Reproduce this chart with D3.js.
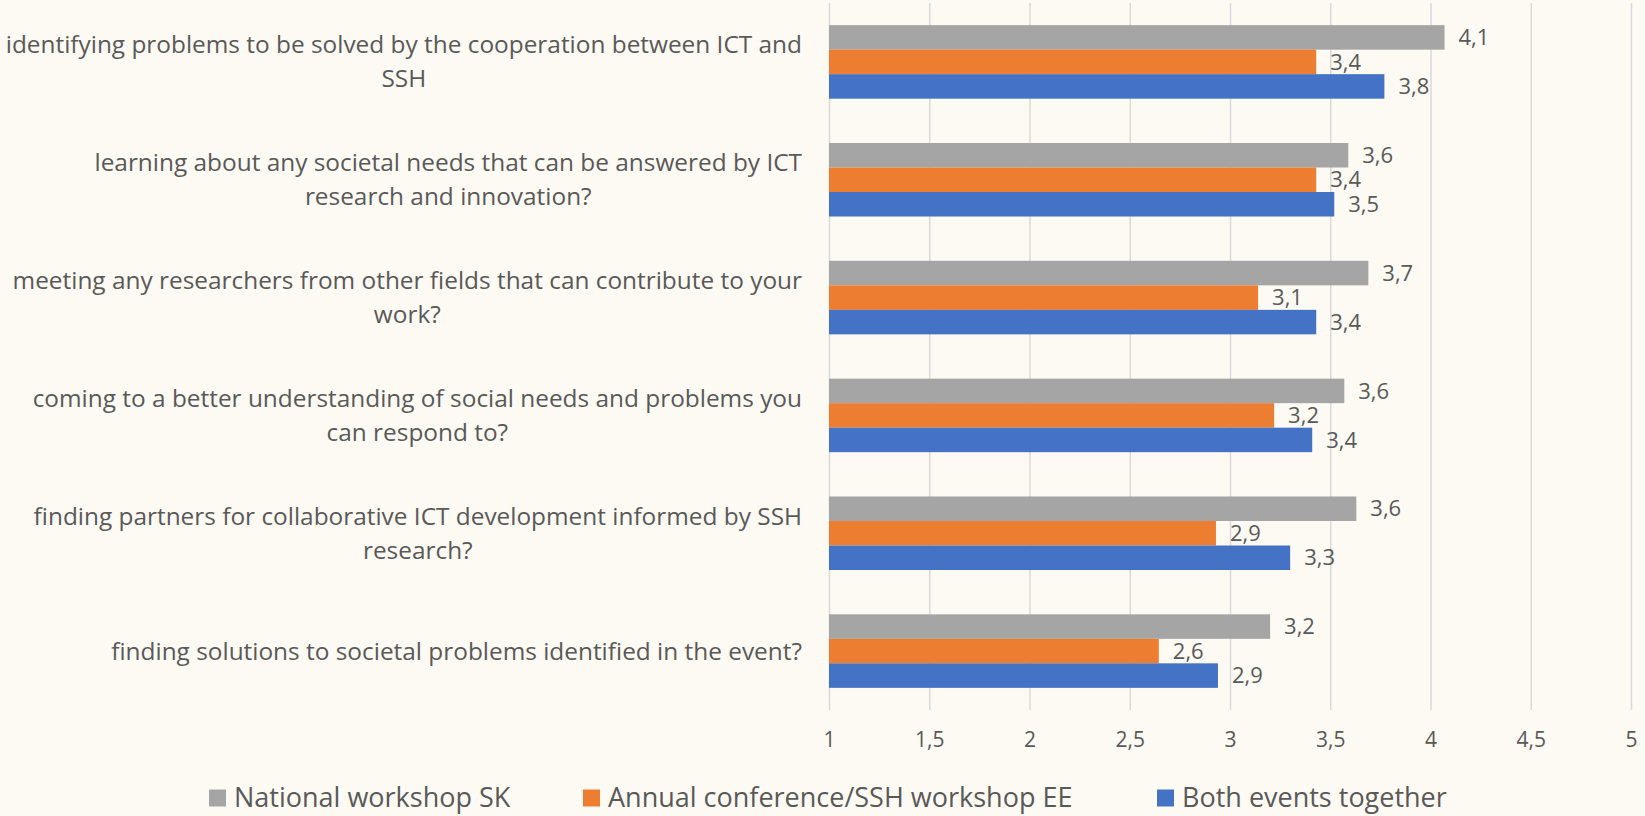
<!DOCTYPE html>
<html>
<head>
<meta charset="utf-8">
<script src="https://cdn.jsdelivr.net/npm/d3@7"></script>
<style>
  html, body { margin: 0; padding: 0; background: #fdfaf3; }
  svg { display: block; }
  text { font-family: "Open Sans", sans-serif; fill: #595959; }
</style>
</head>
<body>
<div id="chart"></div>
<script>
// questions, as wrapped in the original chart
const categories = [
  'identifying problems to be solved by the cooperation between ICT and\nSSH',
  'learning about any societal needs that can be answered by ICT\nresearch and innovation?',
  'meeting any researchers from other fields that can contribute to your\nwork?',
  'coming to a better understanding of social needs and problems you\ncan respond to?',
  'finding partners for collaborative ICT development informed by SSH\nresearch?',
  'finding solutions to societal problems identified in the event?'
];
const seriesNames = ['National workshop SK', 'Annual conference/SSH workshop EE', 'Both events together'];
const nationalSK = [4.07, 3.59, 3.69, 3.57, 3.63, 3.20];
const annualEE = [3.43, 3.43, 3.14, 3.22, 2.93, 2.645];
const bothEvents = [3.77, 3.52, 3.43, 3.41, 3.30, 2.94];
const xTicks = [1, 1.5, 2, 2.5, 3, 3.5, 4, 4.5, 5];
const colors = ['#a5a5a5', '#ed7d31', '#4472c4'];

const width = 1645, height = 816;
const margin = {top: 3, right: 14, bottom: 106, left: 829};

const svg = d3.select('#chart').append('svg')
  .attr('width', width)
  .attr('height', height);

const x = d3.scaleLinear()
  .domain([1, 5])
  .range([margin.left, width - margin.right]);

const y = d3.scaleBand()
  .domain(d3.range(categories.length))
  .range([margin.top, height - margin.bottom])
  .paddingInner(0.376)
  .paddingOuter(0.188);

const ySeries = d3.scaleBand()
  .domain(d3.range(seriesNames.length))
  .range([0, y.bandwidth()]);

// gridlines
svg.append('g')
  .attr('transform', 'translate(0,' + margin.top + ')')
  .call(d3.axisBottom(x).tickValues(xTicks).tickSize(height - margin.bottom - margin.top).tickFormat(''))
  .call(g => g.select('.domain').remove())
  .call(g => g.selectAll('line').attr('stroke', '#d9d9d9').attr('stroke-width', 1.5));

// tick labels
svg.append('g')
  .attr('transform', 'translate(0,' + (height - margin.bottom) + ')')
  .call(d3.axisBottom(x).tickValues(xTicks).tickSize(0).tickPadding(22)
    .tickFormat(d => String(d).replace('.', ',')))
  .call(g => g.select('.domain').remove())
  .call(g => g.selectAll('text').attr('font-size', 21).attr('fill', '#595959')
    .style('font-family', '"Open Sans", sans-serif'));

// bars
const rows = categories.map((c, i) => ({i, vals: [nationalSK[i], annualEE[i], bothEvents[i]]}));

const groups = svg.append('g').selectAll('g')
  .data(rows)
  .enter()
  .append('g')
    .attr('transform', d => 'translate(0,' + y(d.i) + ')');

groups.selectAll('rect')
  .data(d => d.vals.map((v, s) => ({v, s})))
  .enter()
  .append('rect')
    .attr('x', x(1))
    .attr('y', d => ySeries(d.s))
    .attr('width', d => x(d.v) - x(1))
    .attr('height', ySeries.bandwidth())
    .attr('fill', d => colors[d.s]);

groups.selectAll('text.val')
  .data(d => d.vals.map((v, s) => ({v, s})))
  .enter()
  .append('text')
    .attr('class', 'val')
    .attr('x', d => x(d.v) + 14)
    .attr('y', d => ySeries(d.s) + ySeries.bandwidth() / 2)
    .attr('dy', '0.35em')
    .attr('font-size', 22)
    .text(d => d3.format('.1f')(d.v).replace('.', ','));

// category labels
const lineH = 34;
svg.append('g').selectAll('text')
  .data(categories)
  .enter()
  .append('text')
    .attr('text-anchor', 'middle')
    .attr('font-size', 24.4)
    .each(function(d, i) {
      const lines = d.split('\n');
      const cy = y(i) + y.bandwidth() / 2;
      const t = d3.select(this);
      lines.forEach((ln, k) => {
        t.append('tspan')
          .attr('x', 0)
          .attr('y', cy + (k - (lines.length - 1) / 2) * lineH)
          .attr('dy', '0.35em')
          .text(ln);
      });
    });

// right-align the label block against the axis, each line centred in it
svg.selectAll('g text').filter(function() { return this.querySelector('tspan'); })
  .each(function() {
    const t = d3.select(this);
    const spans = t.selectAll('tspan').nodes();
    const w = d3.max(spans, s => s.getComputedTextLength());
    t.selectAll('tspan').attr('x', 802 - w / 2);
  });

// legend
const legendX = [209, 583, 1157];
const legend = svg.append('g').selectAll('g')
  .data(seriesNames)
  .enter()
  .append('g')
    .attr('transform', (d, i) => 'translate(' + legendX[i] + ',798)');

legend.append('rect')
  .attr('x', 0).attr('y', -8.5)
  .attr('width', 17).attr('height', 17)
  .attr('fill', (d, i) => colors[i]);

legend.append('text')
  .attr('x', 25)
  .attr('dy', '0.35em')
  .attr('font-size', 27)
  .text(d => d);
</script>
</body>
</html>
